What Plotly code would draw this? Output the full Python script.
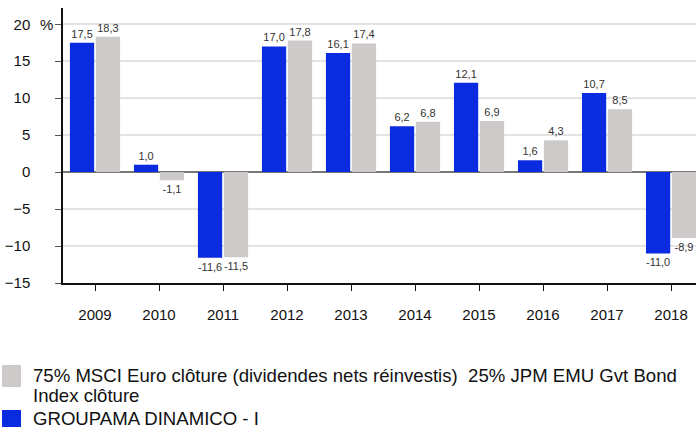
import plotly.graph_objects as go

years = ["2009", "2010", "2011", "2012", "2013", "2014", "2015", "2016", "2017", "2018"]
fund = [17.5, 1.0, -11.6, 17.0, 16.1, 6.2, 12.1, 1.6, 10.7, -11.0]
bench = [18.3, -1.1, -11.5, 17.8, 17.4, 6.8, 6.9, 4.3, 8.5, -8.9]
fund_name = "GROUPAMA DINAMICO - I"
bench_name_lines = ["75% MSCI Euro clôture (dividendes nets réinvestis)  25% JPM EMU Gvt Bond",
                    "Index clôture"]
y_ticks = [-15, -10, -5, 0, 5, 10, 15, 20]

BLUE = "#0B2BE0"
GREY = "#CECACA"
FONT = "Liberation Sans, Arial, sans-serif"

def fmt(v):
    return f"{v:.1f}".replace(".", ",")

fig = go.Figure()
fig.add_trace(go.Bar(x=years, y=fund, name=fund_name, marker=dict(color=BLUE, line=dict(width=0)),
                     text=[fmt(v) for v in fund], textposition="outside", cliponaxis=False,
                     textfont=dict(size=11, color="#333333", family=FONT), showlegend=False,
                     hoverinfo="skip"))
fig.add_trace(go.Bar(x=years, y=bench, name=" ".join(bench_name_lines), marker=dict(color=GREY, line=dict(width=0)),
                     text=[fmt(v) for v in bench], textposition="outside", cliponaxis=False,
                     textfont=dict(size=11, color="#333333", family=FONT), showlegend=False,
                     hoverinfo="skip"))

L, T, B = 63, 8, 283
H = B - T
W = 696 - L

fig.update_layout(
    width=696, height=428,
    margin=dict(l=L, r=0, t=T, b=428 - B, autoexpand=False),
    paper_bgcolor="white", plot_bgcolor="white",
    barmode="group", bargap=0.19, bargroupgap=0.065,
    font=dict(family=FONT, size=15, color="#111111"),
    xaxis=dict(range=[-0.5, 9.39], showline=True, linecolor="#111111", linewidth=1.5,
               ticks="outside", ticklen=6, tickcolor="#111111", tickwidth=1,
               showgrid=False, tickfont=dict(size=15, color="#111111"), ticklabelstandoff=11,
               automargin=False),
    yaxis=dict(range=[-15, 22.2], tickvals=y_ticks, showline=True, linecolor="#111111", linewidth=1.5,
               ticks="outside", ticklen=6, tickcolor="#555555", tickwidth=1,
               showgrid=True, gridcolor="#E3E3E3", gridwidth=1.5,
               zeroline=True, zerolinecolor="#777777", zerolinewidth=1.5,
               tickfont=dict(size=15, color="#111111"), ticklabelstandoff=22,
               automargin=False),
    showlegend=False,
)

# "%" unit label
fig.add_annotation(x=0, y=20, xref="paper", yref="y", text="%", showarrow=False,
                   xanchor="right", xshift=-8, font=dict(size=15, color="#111111"))

# manual legend
def px_x(px):
    return (px - L) / W

def px_y(py):
    return (B - py) / H

legend_squares = [(GREY, 365, 387), (BLUE, 410, 427)]
for color, top, bottom in legend_squares:
    fig.add_shape(type="rect", xref="paper", yref="paper",
                  x0=px_x(2), x1=px_x(21), y0=px_y(bottom), y1=px_y(top),
                  fillcolor=color, line=dict(width=0))

legend_texts = [(bench_name_lines[0], 375), (bench_name_lines[1], 395), (fund_name, 418)]
for label, mid in legend_texts:
    fig.add_annotation(xref="paper", yref="paper", x=px_x(32), y=px_y(mid),
                       text=label, showarrow=False, xanchor="left", yanchor="middle", align="left",
                       borderpad=0, font=dict(size=18.6, color="#111111"))

fig.write_html("out.html", config={"displayModeBar": False},
               post_script="document.body.style.margin='0px';document.body.style.overflow='hidden';")
